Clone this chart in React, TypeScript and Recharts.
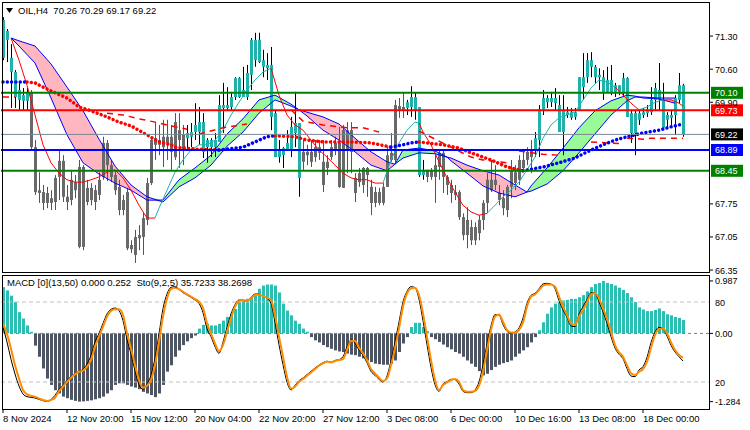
import React from "react";
import { ComposedChart, Bar, Line, Area, XAxis, YAxis, ReferenceLine, Cell } from "recharts";

// OIL H4 candles (one per 4 hours, 8 Nov -> 19 Dec 2024)
const opens = [
  70.84, 71.22, 70.54, 70.01, 69.95, 69.93, 69.93, 70.10, 68.95, 68.04,
  68.00, 67.98, 67.87, 67.79, 68.66, 68.66, 67.90, 68.26, 68.21, 68.53,
  66.84, 68.09, 68.09, 68.04, 68.26, 68.32, 69.04, 68.57, 68.36, 68.11,
  67.83, 68.00, 66.88, 67.05, 67.09, 67.05, 67.41, 68.19, 69.14, 69.10,
  69.17, 69.17, 69.17, 69.48, 69.31, 69.21, 69.14, 69.17, 69.27, 69.27,
  69.48, 68.95, 68.95, 68.95, 69.06, 69.78, 69.78, 69.80, 70.01, 70.01,
  70.01, 70.01, 70.48, 71.22, 70.75, 70.79, 70.69, 70.69, 69.67, 68.74,
  68.78, 68.89, 68.89, 69.25, 69.46, 68.85, 68.85, 68.64, 68.95, 68.83,
  68.64, 68.51, 68.74, 68.89, 69.04, 68.09, 69.31, 68.85, 68.30, 68.21,
  68.51, 68.36, 68.11, 68.00, 67.77, 67.77, 68.11, 68.68, 68.68, 69.82,
  69.74, 69.78, 69.80, 70.01, 69.80, 68.36, 68.47, 68.32, 68.57, 68.53,
  68.83, 68.32, 68.15, 68.00, 68.00, 67.47, 67.09, 67.26, 66.98, 67.13,
  67.41, 67.77, 68.26, 68.15, 67.98, 67.87, 67.62, 68.11, 68.42, 68.26,
  68.51, 68.68, 68.74, 68.89, 69.10, 69.74, 69.90, 69.99, 69.88, 69.84,
  69.27, 69.63, 69.69, 69.59, 69.74, 70.43, 70.43, 70.79, 70.65, 70.43,
  70.43, 70.12, 70.37, 70.12, 70.26, 70.12, 70.41, 69.67, 69.25, 69.67,
  69.63, 69.67, 69.69, 69.95, 70.16, 69.95, 69.53, 69.63, 69.63, 69.95,
  70.26,
];
const highs = [
  71.70, 71.45, 71.13, 70.58, 70.31, 70.20, 70.20, 70.16, 69.10, 68.42,
  68.15, 68.11, 68.04, 68.36, 68.89, 68.78, 68.15, 68.47, 68.36, 68.68,
  68.57, 68.26, 68.19, 68.15, 68.42, 69.17, 69.10, 68.68, 68.47, 68.26,
  67.94, 68.09, 66.98, 67.20, 67.30, 67.58, 68.30, 69.17, 69.48, 69.42,
  69.53, 69.53, 69.42, 69.67, 69.67, 69.42, 69.42, 69.46, 69.88, 69.80,
  69.67, 69.14, 69.14, 69.25, 70.05, 70.31, 70.22, 70.12, 70.43, 70.43,
  70.65, 70.69, 71.26, 71.37, 71.37, 71.01, 70.94, 71.07, 69.74, 69.10,
  68.95, 69.31, 69.59, 70.12, 69.46, 69.10, 69.00, 69.10, 69.10, 69.10,
  69.10, 68.78, 69.10, 69.17, 69.38, 69.42, 69.48, 69.48, 68.40, 68.51,
  68.53, 68.53, 68.26, 68.11, 68.09, 68.19, 68.95, 69.25, 69.95, 69.99,
  70.10, 69.95, 70.24, 70.10, 69.80, 68.68, 68.47, 68.51, 68.83, 68.89,
  68.89, 68.36, 68.26, 68.15, 68.04, 67.55, 67.68, 67.41, 67.36, 67.51,
  67.83, 68.40, 68.68, 68.57, 68.15, 68.04, 68.15, 68.68, 68.57, 68.78,
  68.89, 68.95, 69.10, 69.27, 69.84, 70.16, 70.05, 70.12, 70.20, 70.05,
  70.05, 69.80, 69.78, 69.78, 70.43, 70.94, 70.94, 70.96, 70.69, 70.62,
  70.58, 70.65, 70.69, 70.31, 70.26, 70.52, 70.43, 69.74, 69.74, 69.74,
  69.78, 69.84, 70.22, 70.31, 70.73, 70.31, 69.69, 69.74, 70.05, 70.52,
  70.29,
];
const lows = [
  70.79, 70.75, 69.78, 69.78, 69.74, 69.74, 69.74, 68.89, 67.94, 67.77,
  67.62, 67.66, 67.62, 67.62, 67.83, 67.79, 67.62, 67.72, 67.87, 66.81,
  66.77, 67.72, 67.72, 67.62, 67.83, 68.26, 68.23, 68.21, 67.94, 67.51,
  67.51, 66.77, 66.71, 66.50, 66.77, 66.67, 67.30, 68.15, 68.68, 68.78,
  68.53, 68.68, 68.47, 68.68, 68.51, 68.57, 68.89, 68.95, 69.10, 69.00,
  68.72, 68.62, 68.74, 68.74, 69.06, 69.25, 69.74, 69.74, 69.95, 69.99,
  70.01, 69.95, 70.16, 70.65, 70.73, 70.43, 70.37, 69.31, 68.74, 68.62,
  68.51, 68.89, 68.74, 68.95, 67.90, 68.47, 68.57, 68.53, 68.64, 68.68,
  68.00, 68.36, 68.68, 68.78, 68.09, 68.09, 68.40, 68.40, 67.79, 68.11,
  67.98, 67.90, 67.51, 67.68, 67.72, 67.72, 68.11, 68.64, 68.62, 69.57,
  69.57, 69.63, 69.59, 69.53, 68.32, 68.26, 68.21, 68.26, 67.77, 68.26,
  67.98, 67.94, 67.77, 67.83, 67.41, 66.98, 66.81, 66.88, 66.88, 66.98,
  67.20, 67.55, 68.00, 68.04, 67.72, 67.51, 67.47, 67.87, 68.04, 68.15,
  68.42, 68.57, 68.40, 68.74, 68.74, 69.63, 69.78, 69.80, 69.74, 69.27,
  68.78, 69.57, 69.53, 69.53, 69.74, 69.95, 70.31, 70.43, 70.31, 70.16,
  69.95, 70.10, 70.05, 70.01, 70.05, 70.01, 69.59, 69.04, 68.78, 69.42,
  69.57, 69.59, 69.63, 69.74, 69.74, 69.31, 69.36, 69.42, 69.21, 69.88,
  69.17,
];
const closes = [
  71.64, 71.41, 70.84, 70.54, 70.16, 70.05, 70.10, 68.95, 68.00, 67.98,
  67.77, 67.77, 67.77, 68.30, 68.32, 67.90, 67.79, 67.83, 68.04, 66.84,
  68.53, 67.79, 67.83, 67.79, 67.94, 69.04, 68.57, 68.32, 68.04, 67.62,
  67.62, 66.81, 66.79, 66.67, 67.02, 67.45, 68.19, 69.10, 69.00, 69.00,
  68.95, 69.04, 68.85, 68.74, 69.10, 68.89, 69.25, 69.27, 69.42, 69.48,
  68.85, 69.10, 69.10, 69.10, 69.84, 69.84, 69.84, 70.01, 70.41, 70.41,
  70.16, 70.52, 71.22, 70.79, 71.22, 70.65, 70.62, 69.59, 68.74, 68.89,
  68.93, 69.04, 69.38, 69.46, 68.30, 68.64, 68.78, 68.85, 68.74, 68.95,
  68.15, 68.64, 68.95, 69.04, 68.11, 69.31, 68.89, 69.31, 67.98, 68.40,
  68.15, 68.51, 67.77, 67.77, 68.00, 68.11, 68.78, 68.83, 69.84, 69.74,
  69.80, 69.90, 70.01, 69.74, 68.36, 68.47, 68.32, 68.47, 68.32, 68.83,
  68.32, 68.15, 67.98, 67.94, 67.47, 67.09, 67.41, 66.98, 67.26, 67.41,
  67.77, 68.26, 68.04, 68.26, 67.83, 67.66, 68.11, 68.47, 68.19, 68.68,
  68.68, 68.85, 68.89, 69.14, 69.74, 69.99, 69.99, 69.90, 69.99, 69.27,
  69.74, 69.69, 69.57, 69.69, 70.43, 70.22, 70.79, 70.65, 70.43, 70.48,
  70.12, 70.37, 70.12, 70.26, 70.12, 70.41, 69.59, 69.25, 69.67, 69.53,
  69.69, 69.74, 69.95, 70.20, 69.95, 69.36, 69.63, 69.57, 69.99, 70.26,
  69.22,
];
// bar index where the candle colouring (trend state) switches
const trendSwitches: [number, string][] = [
  [0, "U"], [7, "D"], [46, "U"], [75, "D"], [101, "U"], [106, "D"], [133, "U"],
];

// two averages bounding the coloured band
const cloudIdx = [2, 4, 8, 12, 16, 20, 24, 28, 32, 36, 40, 44, 48, 52, 56, 60, 64, 68, 72, 74, 76, 80, 84, 88, 92, 96, 98, 100, 104, 108, 111, 112, 116, 120, 124, 128, 131, 132, 136, 140, 144, 148, 152, 156, 158, 160, 164, 168];
const cloudSlow = [71.26, 71.20, 71.09, 70.71, 70.22, 69.72, 69.12, 68.55, 68.15, 67.90, 67.79, 68.11, 68.30, 68.57, 68.97, 69.27, 69.67, 69.95, 69.82, 69.74, 69.69, 69.59, 69.44, 69.14, 68.85, 68.64, 68.59, 68.72, 68.83, 68.81, 68.74, 68.72, 68.57, 68.45, 68.36, 68.15, 68.00, 68.02, 68.17, 68.45, 68.83, 69.23, 69.63, 69.93, 70.01, 70.01, 69.99, 69.99];
const cloudFast = [71.26, 71.09, 70.73, 69.99, 69.21, 68.62, 68.38, 68.19, 68.04, 67.83, 67.83, 68.26, 68.51, 68.78, 69.23, 69.55, 69.95, 70.05, 69.86, 69.74, 69.61, 69.31, 69.10, 68.85, 68.57, 68.45, 68.59, 68.89, 68.93, 68.87, 68.74, 68.66, 68.40, 68.13, 67.98, 67.90, 68.00, 68.13, 68.51, 68.93, 69.36, 69.72, 69.93, 70.05, 70.03, 69.99, 69.97, 69.88];

type Run = { dir: string; pts: [number, number][] };
// thin fast average, teal while rising, red while falling
const fastMaRuns: Run[] = [
  { dir: "dn", pts: [[2, 71.26], [4, 70.79], [6, 70.26], [8, 69.63], [10, 69.00], [12, 68.62], [14, 68.40], [16, 68.26], [18, 68.21], [20, 68.21], [22, 68.26], [24, 68.32], [26, 68.42], [28, 68.47], [30, 68.30], [32, 68.04], [34, 67.72], [36, 67.45], [38, 67.45]] },
  { dir: "up", pts: [[38, 67.45], [39, 67.66], [41, 68.04], [43, 68.42], [45, 68.68], [47, 68.89], [49, 69.00], [51, 69.00], [53, 69.10], [55, 69.31], [57, 69.63], [59, 69.90], [61, 70.16], [63, 70.37], [65, 70.54], [67, 70.62]] },
  { dir: "dn", pts: [[67, 70.62], [69, 70.05], [71, 69.63], [73, 69.42], [75, 69.31], [77, 69.10], [79, 68.89], [81, 68.74], [83, 68.57], [85, 68.40], [87, 68.30], [89, 68.26], [91, 68.26], [93, 68.19], [95, 68.19]] },
  { dir: "up", pts: [[95, 68.19], [97, 68.68], [99, 69.04], [101, 69.31], [103, 69.48], [104, 69.46]] },
  { dir: "dn", pts: [[104, 69.46], [105, 69.27], [107, 69.00], [109, 68.64], [111, 68.30], [113, 68.00], [115, 67.72], [117, 67.58], [119, 67.51], [121, 67.55]] },
  { dir: "up", pts: [[121, 67.55], [123, 67.72], [125, 67.90], [127, 68.04], [129, 68.21], [131, 68.47], [133, 68.74], [135, 69.14], [137, 69.42], [139, 69.57], [141, 69.63], [143, 69.69], [145, 69.95], [147, 70.20], [149, 70.37], [151, 70.33], [153, 70.22]] },
  { dir: "dn", pts: [[153, 70.22], [155, 70.05], [157, 69.88], [159, 69.74]] },
  { dir: "up", pts: [[159, 69.74], [161, 69.80], [163, 69.90], [165, 69.95]] },
  { dir: "dn", pts: [[165, 69.95], [167, 69.95], [169, 69.88], [170, 69.82]] },
];
// dotted slow average, blue while rising, red while falling
const slowMaRuns: Run[] = [
  { dir: "up", pts: [[0, 70.33], [6, 70.33]] },
  { dir: "dn", pts: [[6, 70.33], [8, 70.31], [10, 70.22], [12, 70.14], [16, 69.99], [19, 69.80], [22, 69.72], [26, 69.59], [29, 69.48], [32, 69.40], [36, 69.21], [39, 69.06], [42, 69.00], [43, 68.95], [48, 68.91], [54, 68.89]] },
  { dir: "up", pts: [[54, 68.89], [60, 68.95], [63, 69.06], [66, 69.17], [68, 69.19]] },
  { dir: "dn", pts: [[68, 69.19], [73, 69.17], [76, 69.10], [80, 69.06], [87, 69.06], [92, 69.04], [97, 68.95]] },
  { dir: "up", pts: [[97, 68.95], [100, 69.00], [102, 69.04], [104, 69.06]] },
  { dir: "dn", pts: [[104, 69.06], [110, 69.00], [114, 68.93], [117, 68.83], [122, 68.68], [126, 68.53], [130, 68.45]] },
  { dir: "up", pts: [[130, 68.45], [135, 68.53], [139, 68.62], [143, 68.72], [146, 68.85], [150, 69.00], [153, 69.10], [156, 69.17], [160, 69.25], [164, 69.31], [167, 69.38], [170, 69.44]] },
];
// red dashed stop line
const dashRuns: Run[] = [
  { dir: "dn", pts: [[0, 70.01], [3, 70.01]] },
  { dir: "dn", pts: [[26, 69.67], [30, 69.63], [34, 69.55], [38, 69.48], [43, 69.38], [46, 69.33]] },
  { dir: "dn", pts: [[49, 69.23], [55, 69.36], [61, 69.44]] },
  { dir: "dn", pts: [[72, 69.74], [75, 69.50], [80, 69.42], [86, 69.36], [90, 69.36], [94, 69.27]] },
  { dir: "dn", pts: [[104, 69.29], [108, 69.12], [112, 68.95], [117, 68.74], [120, 68.68], [126, 68.62]] },
  { dir: "dn", pts: [[129, 68.87], [135, 68.80], [139, 68.78]] },
  { dir: "dn", pts: [[147, 69.06], [155, 69.02]] },
  { dir: "dn", pts: [[156, 69.14], [160, 69.12], [162, 69.14], [170, 69.14]] },
];

const macdHist = [
  0.87, 0.81, 0.71, 0.59, 0.40, 0.28, 0.15, 0.03, -0.23, -0.44,
  -0.66, -0.85, -0.97, -1.07, -1.13, -1.19, -1.22, -1.25, -1.27, -1.284,
  -1.28, -1.27, -1.26, -1.24, -1.22, -1.19, -1.13, -1.07, -0.97, -0.94,
  -0.94, -0.97, -1.00, -1.02, -1.05, -1.10, -1.13, -1.16, -1.20, -1.13,
  -0.97, -0.72, -0.60, -0.44, -0.32, -0.22, -0.15, -0.09, -0.04, 0.09,
  0.16, 0.18, 0.15, 0.15, 0.18, 0.24, 0.31, 0.37, 0.46, 0.59,
  0.62, 0.65, 0.68, 0.74, 0.84, 0.90, 0.92, 0.92, 0.90, 0.77,
  0.56, 0.43, 0.34, 0.24, 0.18, 0.09, 0.03, -0.07, -0.13, -0.17,
  -0.22, -0.26, -0.29, -0.32, -0.34, -0.35, -0.38, -0.40, -0.41, -0.44,
  -0.47, -0.51, -0.54, -0.57, -0.58, -0.59, -0.59, -0.57, -0.51, -0.35,
  -0.19, -0.07, 0.12, 0.20, 0.20, 0.12, 0.04, -0.07, -0.11, -0.16,
  -0.21, -0.26, -0.30, -0.35, -0.38, -0.44, -0.51, -0.57, -0.63, -0.71,
  -0.79, -0.76, -0.69, -0.63, -0.59, -0.56, -0.54, -0.51, -0.44, -0.38,
  -0.32, -0.26, -0.17, -0.07, 0.06, 0.21, 0.37, 0.49, 0.56, 0.59,
  0.62, 0.63, 0.65, 0.65, 0.68, 0.72, 0.79, 0.87, 0.93, 0.95,
  0.987, 0.95, 0.93, 0.90, 0.86, 0.82, 0.76, 0.68, 0.59, 0.49,
  0.45, 0.42, 0.42, 0.44, 0.47, 0.42, 0.36, 0.34, 0.31, 0.29,
  0.252,
];
const stochMain = [
  61, 50, 37, 26, 17, 11, 9, 8.5, 8, 7,
  6, 5.3, 6.8, 10, 14.5, 17.5, 21.5, 24, 26.3, 28,
  29.5, 33.5, 40, 50, 56.5, 64, 71, 74.5, 75.5, 73.5,
  66, 52, 41, 28.5, 18, 14.5, 18.5, 25, 38, 56,
  75, 86, 91, 91.5, 89.5, 87, 85.3, 83.5, 81.5, 79,
  72, 60, 54, 46.5, 41.5, 50, 61, 71, 78, 81.5,
  81.3, 80.5, 83.5, 86, 86, 84, 82.8, 79, 64.5, 48,
  33, 20, 14, 17.5, 21, 23, 25.5, 28, 30.5, 32.7,
  34.5, 35.6, 34.8, 36.2, 36.8, 39, 46.5, 51.5, 49, 44,
  40, 34.5, 28, 25, 22, 20, 24.5, 36, 50, 65,
  80, 88, 91.5, 90.8, 82, 66, 48, 31, 18, 13,
  18.5, 20.2, 22, 21.8, 18.5, 13, 12, 12, 14, 20,
  33, 48.5, 62, 70.5, 70.3, 63, 58, 56.5, 57.5, 60.5,
  68, 79, 85, 86.5, 90, 93.5, 94, 93.4, 90, 81,
  74, 68.5, 62, 61.5, 71, 76.5, 82, 87, 86.5, 80,
  72.5, 64, 54, 45.5, 40.8, 37.5, 30, 24.5, 24, 29,
  31.5, 38.5, 49.5, 57.5, 61, 60, 54.5, 47.5, 42.5, 39,
  35.72,
];
const stochSignal = [
  64, 56, 45, 32.7, 22.7, 14, 10.7, 9.7, 9, 7.7,
  6.5, 5.7, 6.5, 8.2, 13.2, 16.5, 20.2, 23.2, 25.7, 27.7,
  28.5, 31.5, 36.5, 46.5, 54, 61.5, 69, 73.2, 74.5, 74.5,
  70.2, 56.5, 45.2, 32.7, 21.5, 15.7, 17.2, 21.5, 32.7, 50.2,
  69, 82.7, 89.7, 90.7, 89.7, 87.7, 85.7, 84, 82.2, 80.2,
  75.7, 64, 56.5, 49, 43.2, 47.7, 57.7, 67.7, 76.5, 80.7,
  81.5, 80.7, 82.7, 85.2, 85.7, 84.2, 83.2, 81.5, 70.2, 54,
  39, 24, 15.2, 16.5, 20.2, 22.2, 24.7, 27.2, 29.7, 32.2,
  34, 35.2, 34.7, 35.7, 36.5, 37.2, 44, 50.7, 50.7, 45.7,
  41.5, 36.5, 29.7, 26.5, 23.2, 20.7, 22.7, 32.7, 45.2, 60.2,
  76.5, 86.5, 90.2, 90.7, 85.2, 71.5, 54, 36.5, 21.5, 14,
  17.7, 19.7, 21.5, 22.2, 20.2, 14, 12.7, 12.7, 13.2, 17.2,
  27.7, 44, 59, 69, 70.7, 65.2, 59, 57.2, 57.2, 59,
  64.7, 76.5, 84, 85.7, 89, 92.2, 93.2, 93.2, 91.5, 84,
  76.5, 70.2, 64, 62.7, 69, 74, 79.7, 85.7, 86.5, 82.7,
  75.2, 67.7, 57.7, 47.7, 42.2, 39, 32.7, 26.5, 25.2, 27.7,
  29.7, 35.2, 45.7, 55.2, 59.7, 60.2, 56.5, 49.7, 44, 40.2,
  38.27,
];

const dateIdx = [0, 16, 32, 48, 64, 80, 96, 112, 128, 144, 160];
const dateLabels = ["8 Nov 2024", "12 Nov 20:00", "15 Nov 12:00", "20 Nov 04:00", "22 Nov 20:00", "27 Nov 12:00", "3 Dec 08:00", "6 Dec 00:00", "10 Dec 16:00", "13 Dec 08:00", "18 Dec 00:00"];
const priceTicks = [71.3, 70.6, 69.9, 67.75, 67.05, 66.35];
const levelPrices = [70.1, 69.73, 68.89, 68.45];
const levelColors = ["#008000", "#FF0000", "#0000FF", "#008000"];
const lastPrice = 69.22;
const macdTicks = [0.987, 0, -1.284];

const SLOTS = 177; // 171 bars plus the empty shift on the right
const FONT = "'Liberation Sans', Arial, sans-serif";

const rows: any[] = Array.from({ length: SLOTS }, (_, i) => ({ i }));
let state = "U";
opens.forEach((o, i) => {
  const sw = trendSwitches.find((s) => s[0] === i);
  if (sw) state = sw[1];
  Object.assign(rows[i], {
    o, h: highs[i], l: lows[i], c: closes[i], hl: [lows[i], highs[i]], up: state === "U",
    macd: macdHist[i], k: stochMain[i], d: stochSignal[i],
  });
});
cloudIdx.forEach((idx, n) => {
  const s = cloudSlow[n], f = cloudFast[n];
  Object.assign(rows[idx], { slow: s, fast: f, pink: [Math.min(s, f), s], green: [s, Math.max(s, f)] });
});
function addRuns(runs: Run[], prefix: string) {
  return runs.map((run, k) => {
    const key = `${prefix}${k}`;
    run.pts.forEach(([idx, v]) => { rows[idx][key] = v; });
    return { key, dir: run.dir };
  });
}
const fastKeys = addRuns(fastMaRuns, "fma");
const slowKeys = addRuns(slowMaRuns, "sma");
const dashKeys = addRuns(dashRuns, "dsh");

function Candle(props: any) {
  const { x, y, height, payload } = props;
  if (!payload || payload.h == null) return null;
  const top = Math.min(y, y + height);
  const span = Math.abs(height);
  const { o, h, l, c, up } = payload;
  const toY = (p: number) => top + (h === l ? 0 : ((h - p) / (h - l)) * span);
  const left = Math.round(x);
  const cx = left + 1.5;
  const bTop = toY(Math.max(o, c));
  const bBot = toY(Math.min(o, c));
  return (
    <g>
      <line x1={cx} x2={cx} y1={top} y2={top + Math.max(span, 1)} stroke={up ? "#000000" : "#DC143C"} strokeWidth={1} />
      <rect x={left} y={bTop} width={3} height={Math.max(1, bBot - bTop)} fill={up ? "#20B2AA" : "#696969"} />
    </g>
  );
}

function PriceTick({ x, y, payload }: any) {
  return (
    <text x={x} y={y} dy={3.5} fontSize={9} fill="#000" textAnchor="start" fontFamily={FONT}>
      {Number(payload.value).toFixed(2)}
    </text>
  );
}

function MacdTick({ x, y, payload }: any) {
  const v = Number(payload.value);
  return (
    <text x={x} y={y} dy={3.5} fontSize={9} fill="#000" textAnchor="start" fontFamily={FONT}>
      {v === 0 ? "0.00" : String(v)}
    </text>
  );
}

function DateTick({ x, y, payload }: any) {
  const k = dateIdx.indexOf(payload.value);
  return (
    <text x={x} y={y} dy={7} fontSize={9.5} fill="#000" textAnchor="start" fontFamily={FONT}>
      {dateLabels[k]}
    </text>
  );
}

function LevelTag({ viewBox, text, bg }: any) {
  if (!viewBox) return null;
  const x = viewBox.x + viewBox.width;
  const y = viewBox.y;
  return (
    <g>
      <rect x={x + 2} y={y - 6} width={32} height={12} fill={bg} />
      <text x={x + 6} y={y + 3.5} fill="#fff" fontSize={9} fontFamily={FONT}>{text}</text>
    </g>
  );
}

function LevelText({ viewBox, text }: any) {
  if (!viewBox) return null;
  return (
    <text x={viewBox.x + viewBox.width + 6} y={viewBox.y + 3.5} fill="#000" fontSize={9} fontFamily={FONT}>{text}</text>
  );
}

export default function App() {
  return (
    <div style={{ position: "absolute", left: 0, top: 0, width: 750, height: 430, background: "#fff", fontFamily: FONT, overflow: "hidden" }}>
      <div style={{ position: "absolute", left: 0, top: 273 }}>
        <ComposedChart width={750} height={157} data={rows} margin={{ top: 2, right: 0, bottom: 0, left: 1 }}>
          <XAxis
            dataKey="i"
            ticks={dateIdx}
            interval={0}
            height={21}
            axisLine={false}
            tickSize={4}
            tickLine={{ stroke: "#000" }}
            tick={<DateTick />}
          />
          <YAxis
            yAxisId="macd"
            orientation="right"
            width={41}
            domain={[-1.423, 1.099]}
            ticks={macdTicks}
            interval={0}
            allowDataOverflow
            axisLine={false}
            tickSize={4}
            tickLine={{ stroke: "#000" }}
            tick={<MacdTick />}
          />
          <YAxis yAxisId="sto" hide domain={[-0.25, 100.25]} allowDataOverflow />
          <Bar yAxisId="macd" dataKey="macd" barSize={3} isAnimationActive={false}>
            {rows.map((r) => (
              <Cell key={r.i} fill={(r.macd ?? 0) >= 0 ? "#2BBFB4" : "#4E5562"} />
            ))}
          </Bar>
          <ReferenceLine yAxisId="macd" y={0} stroke="#708090" strokeDasharray="3 3" />
          <ReferenceLine yAxisId="sto" y={80} stroke="#C0C0C0" strokeDasharray="4 3" label={<LevelText text="80" />} />
          <ReferenceLine yAxisId="sto" y={20} stroke="#C0C0C0" strokeDasharray="4 3" label={<LevelText text="20" />} />
          <Line yAxisId="sto" dataKey="k" type="monotone" stroke="#000000" strokeWidth={1} dot={false} isAnimationActive={false} />
          <Line yAxisId="sto" dataKey="d" type="monotone" stroke="#FF8C00" strokeWidth={2} dot={false} isAnimationActive={false} />
        </ComposedChart>
      </div>

      <div style={{ position: "absolute", left: 0, top: 0 }}>
        <ComposedChart width={750} height={280} data={rows} margin={{ top: 3, right: 0, bottom: 9, left: 1 }}>
          <XAxis dataKey="i" hide />
          <YAxis
            orientation="right"
            width={41}
            domain={[66.33, 72.0]}
            ticks={priceTicks}
            interval={0}
            allowDataOverflow
            axisLine={false}
            tickSize={4}
            tickLine={{ stroke: "#000" }}
            tick={<PriceTick />}
          />
          <Area dataKey="pink" fill="#FFB6C1" fillOpacity={1} stroke="none" connectNulls isAnimationActive={false} />
          <Area dataKey="green" fill="#98FB98" fillOpacity={1} stroke="none" connectNulls isAnimationActive={false} />
          <Bar dataKey="hl" barSize={3} shape={(p: any) => <Candle {...p} />} isAnimationActive={false} />
          <Line dataKey="slow" stroke="#0000FF" strokeWidth={1} dot={false} connectNulls isAnimationActive={false} />
          <Line dataKey="fast" stroke="#0000FF" strokeWidth={1} dot={false} connectNulls isAnimationActive={false} />
          {fastKeys.map((s) => (
            <Line key={s.key} dataKey={s.key} stroke={s.dir === "up" ? "#20B2AA" : "#FF0000"} strokeWidth={1} dot={false} connectNulls isAnimationActive={false} />
          ))}
          {dashKeys.map((s) => (
            <Line key={s.key} dataKey={s.key} stroke="#FF0000" strokeWidth={1.5} strokeDasharray="6 5" dot={false} connectNulls isAnimationActive={false} />
          ))}
          {slowKeys.map((s) => (
            <Line key={s.key} dataKey={s.key} stroke={s.dir === "up" ? "#0000FF" : "#FF0000"} strokeWidth={3.5} strokeLinecap="round" strokeDasharray="0.01 4.3" dot={false} connectNulls isAnimationActive={false} />
          ))}
          <ReferenceLine y={lastPrice} stroke="#778899" strokeWidth={1} label={<LevelTag text={lastPrice.toFixed(2)} bg="#000000" />} />
          {levelPrices.map((p, n) => (
            <ReferenceLine key={p} y={p} stroke={levelColors[n]} strokeWidth={2} label={<LevelTag text={p.toFixed(2)} bg={levelColors[n]} />} />
          ))}
        </ComposedChart>
      </div>

      {/* panel frames */}
      <div style={{ position: "absolute", left: 2, top: 2, width: 708, height: 271, border: "1px solid #000", boxSizing: "border-box", pointerEvents: "none" }} />
      <div style={{ position: "absolute", left: 2, top: 275, width: 708, height: 135, border: "1px solid #000", boxSizing: "border-box", pointerEvents: "none" }} />

      {/* header texts */}
      <svg style={{ position: "absolute", left: 6, top: 8 }} width={8} height={6}>
        <polygon points="0,0 7,0 3.5,5" fill="#000" />
      </svg>
      <div style={{ position: "absolute", left: 18, top: 5, fontSize: 9.5, whiteSpace: "pre", color: "#000" }}>
        {"OIL,H4  70.26 70.29 69.17 69.22"}
      </div>
      <div style={{ position: "absolute", left: 7, top: 277, fontSize: 9.5, whiteSpace: "pre", color: "#000" }}>
        {"MACD [0](13,50) 0.000 0.252  Sto(9,2,5) 35.7233 38.2698"}
      </div>
    </div>
  );
}
